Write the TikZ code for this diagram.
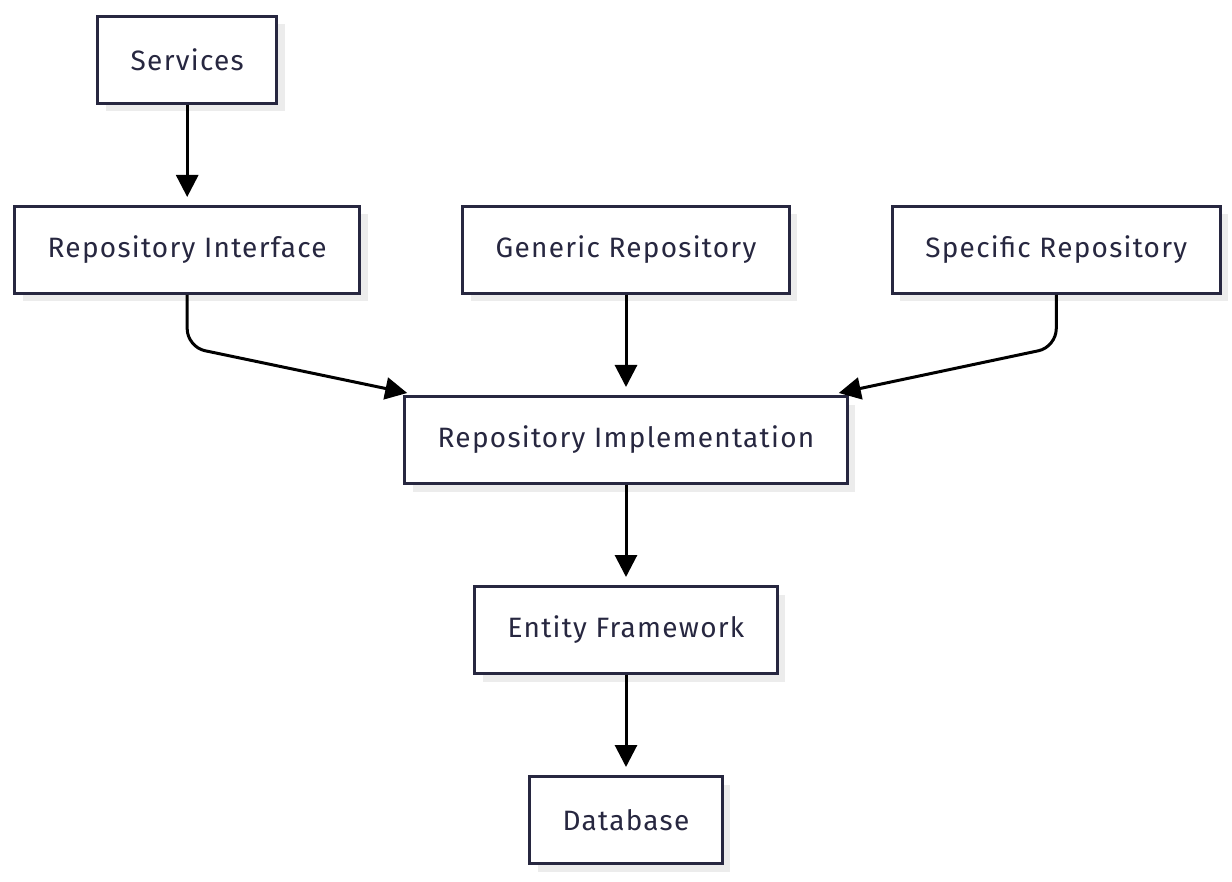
\documentclass[tikz,border=0pt]{standalone}
\usepackage{fontspec}
\setmainfont[LetterSpace=4.5]{Fira Sans}
\usepackage{xcolor}
\usepackage{tikz}
\usetikzlibrary{arrows.meta, positioning, shadows}
\definecolor{edge}{HTML}{272740}
\definecolor{shd}{HTML}{ECECEC}

\begin{document}
\begin{tikzpicture}[node distance=50pt and 50pt, >=Triangle]
  \tikzstyle{blk}=[rectangle, minimum height=43.5pt, inner xsep=16.5pt,
                   draw=edge, line width=1.5pt, fill=white,
                   drop shadow={shadow xshift=4pt, shadow yshift=-4pt, fill=shd, opacity=1},
                   font=\fontsize{14}{17}\selectfont\color{edge}]
  \tikzstyle{arr}=[-{Triangle[length=11pt, width=11pt]}, line width=1.5pt,
                   color=black, shorten >=4pt]
  \useasboundingbox (0,0) rectangle (616pt,-441pt);
  \node[blk](G) at (313pt,-125pt){Generic Repository};
  \node[blk, left=of G](I){Repository Interface};
  \node[blk, right=of G](P){Specific Repository};
  \node[blk, above=of I](S){Services};
  \node[blk, below=of G](R){Repository Implementation};
  \node[blk, below=of R](E){Entity Framework};
  \node[blk, below=of E](D){Database};
  \draw[arr](S)--(I);
  \draw[arr](G)--(R);
  \draw[arr](R)--(E);
  \draw[arr](E)--(D);
  \draw[arr, shorten >=0pt, rounded corners=9pt](I.south)--++(0,-26pt)--([xshift=2pt,yshift=1pt]R.north west);
  \draw[arr, shorten >=0pt, rounded corners=9pt](P.south)--++(0,-26pt)--([xshift=-5pt,yshift=1pt]R.north east);
\end{tikzpicture}
\end{document}
